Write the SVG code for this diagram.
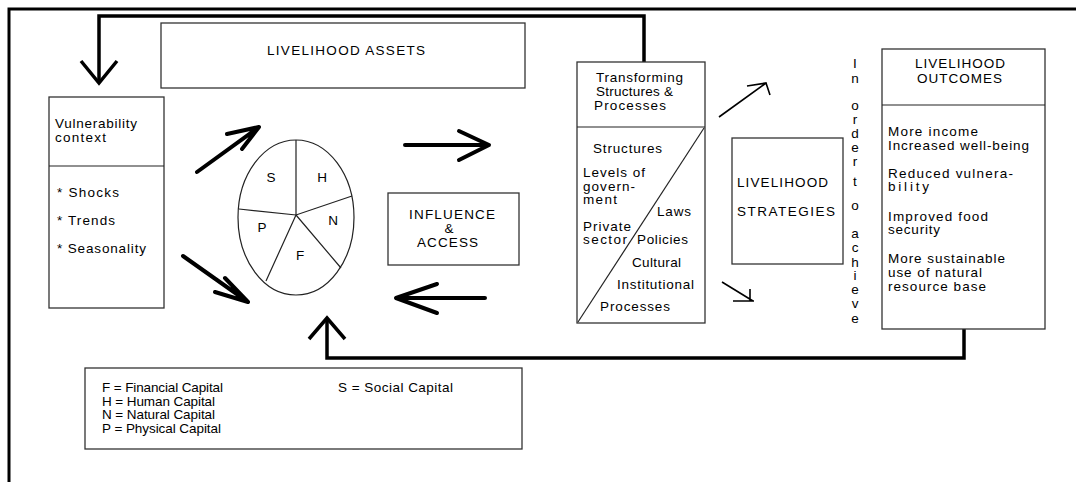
<svg xmlns="http://www.w3.org/2000/svg" width="1076" height="482" viewBox="0 0 1076 482">
<style>
text{font-family:"Liberation Sans",Arial,sans-serif;font-size:13.5px;fill:#000}
.c{text-anchor:middle}
.box{fill:#fff;stroke:#333;stroke-width:1.3}
.thin{fill:none;stroke:#222;stroke-width:1.2}
.fb{fill:none;stroke:#000;stroke-width:3.5;stroke-linejoin:miter}
.ar{fill:none;stroke:#000;stroke-width:4;stroke-linecap:round;stroke-linejoin:round}
.sa{fill:none;stroke:#000;stroke-width:1.6}
</style>
<rect width="1076" height="482" fill="#fff"/>
<g id="frame"><path d="M9,482 V9 H1076" fill="none" stroke="#000" stroke-width="3"/></g>

<g id="connectors">
  <path class="fb" d="M644,62 V16 H99 V82"/>
  <path class="fb" d="M81,61 L99,83 L117,61"/>
  <path class="fb" d="M964,329 V358 H327 V319"/>
  <path class="fb" d="M309,339 L327,318 L345,339"/>
  <path class="ar" d="M197,172 L259,127 M227,134 L259,127 L242,149"/>
  <path class="ar" d="M183,256 L248,302 M225,278 L248,302 L215,292"/>
  <path class="ar" d="M405,145 H489 M459,131 L489,145 L459,160"/>
  <path class="ar" d="M485,298 H396 M437,284 L396,298 L437,313"/>
  <path class="sa" d="M719,117 L766,83 M747,86 L766,83 L770,95"/>
  <path class="sa" d="M722,282 L753,301 M733,301 H754 M750,289 V301"/>
</g>

<g id="assets">
  <rect class="box" x="161" y="23" width="364" height="65"/>
  <text x="267" y="55" textLength="158" lengthAdjust="spacing">LIVELIHOOD ASSETS</text>
</g>

<g id="vulnerability">
  <rect class="box" x="49" y="97" width="115" height="211"/>
  <line class="thin" x1="49" y1="166" x2="164" y2="166"/>
  <text x="55" y="128" textLength="82" lengthAdjust="spacing">Vulnerability</text>
  <text x="55" y="142" textLength="51" lengthAdjust="spacing">context</text>
  <text x="57" y="197" textLength="62" lengthAdjust="spacing">* Shocks</text>
  <text x="57" y="225" textLength="58" lengthAdjust="spacing">* Trends</text>
  <text x="57" y="253" textLength="89" lengthAdjust="spacing">* Seasonality</text>
</g>

<g id="pie">
  <ellipse cx="296" cy="217.5" rx="58" ry="77.5" fill="#fff" stroke="#222" stroke-width="1.2"/>
  <path class="thin" d="M296,140 V215 M239,209 L296,215 L352,196 M296,215 L341,268 M296,215 L266,281"/>
  <text class="c" x="271" y="182">S</text>
  <text class="c" x="322" y="182">H</text>
  <text class="c" x="262" y="232">P</text>
  <text class="c" x="333" y="225">N</text>
  <text class="c" x="300" y="260">F</text>
</g>

<g id="influence">
  <rect class="box" x="388" y="193" width="131" height="72"/>
  <text x="409" y="219" textLength="86" lengthAdjust="spacing">INFLUENCE</text>
  <text class="c" x="449" y="233">&amp;</text>
  <text x="417" y="247" textLength="61" lengthAdjust="spacing">ACCESS</text>
</g>

<g id="transforming">
  <rect class="box" x="577" y="62" width="128" height="261"/>
  <line class="thin" x1="577" y1="127" x2="705" y2="127"/>
  <line class="thin" x1="578" y1="322" x2="704" y2="128"/>
  <text x="596" y="82" textLength="87" lengthAdjust="spacing">Transforming</text>
  <text x="596" y="96" textLength="77" lengthAdjust="spacing">Structures &amp;</text>
  <text x="594" y="110" textLength="72" lengthAdjust="spacing">Processes</text>
  <text x="593" y="153" textLength="69" lengthAdjust="spacing">Structures</text>
  <text x="583" y="177" textLength="62" lengthAdjust="spacing">Levels of</text>
  <text x="583" y="191" textLength="52" lengthAdjust="spacing">govern-</text>
  <text x="583" y="204" textLength="34" lengthAdjust="spacing">ment</text>
  <text x="657" y="216" textLength="34" lengthAdjust="spacing">Laws</text>
  <text x="583" y="231" textLength="48" lengthAdjust="spacing">Private</text>
  <text x="583" y="244" textLength="44" lengthAdjust="spacing">sector</text>
  <text x="637" y="244" textLength="51" lengthAdjust="spacing">Policies</text>
  <text x="632" y="267" textLength="49" lengthAdjust="spacing">Cultural</text>
  <text x="617" y="289" textLength="77" lengthAdjust="spacing">Institutional</text>
  <text x="600" y="311" textLength="70" lengthAdjust="spacing">Processes</text>
</g>

<g id="strategies">
  <rect class="box" x="732" y="138" width="111" height="126"/>
  <text x="737" y="187" textLength="91" lengthAdjust="spacing">LIVELIHOOD</text>
  <text x="737" y="216" textLength="98" lengthAdjust="spacing">STRATEGIES</text>
</g>

<g id="in-order-to-achieve">
  <text class="c" x="855" y="68">I</text>
  <text class="c" x="855" y="83">n</text>
  <text class="c" x="855" y="110">o</text>
  <text class="c" x="855" y="124">r</text>
  <text class="c" x="855" y="138">d</text>
  <text class="c" x="855" y="152">e</text>
  <text class="c" x="855" y="166">r</text>
  <text class="c" x="855" y="186">t</text>
  <text class="c" x="855" y="210">o</text>
  <text class="c" x="855" y="238">a</text>
  <text class="c" x="855" y="252">c</text>
  <text class="c" x="855" y="267">h</text>
  <text class="c" x="855" y="280">i</text>
  <text class="c" x="855" y="294">e</text>
  <text class="c" x="855" y="308">v</text>
  <text class="c" x="855" y="323">e</text>
</g>

<g id="outcomes">
  <rect class="box" x="882" y="49" width="163" height="280"/>
  <line class="thin" x1="882" y1="105" x2="1045" y2="105"/>
  <text x="915" y="68" textLength="90" lengthAdjust="spacing">LIVELIHOOD</text>
  <text x="917" y="83" textLength="85" lengthAdjust="spacing">OUTCOMES</text>
  <text x="888" y="136" textLength="90" lengthAdjust="spacing">More income</text>
  <text x="888" y="150" textLength="141" lengthAdjust="spacing">Increased well-being</text>
  <text x="888" y="178" textLength="125" lengthAdjust="spacing">Reduced vulnera-</text>
  <text x="888" y="191" textLength="41" lengthAdjust="spacing">bility</text>
  <text x="888" y="221" textLength="100" lengthAdjust="spacing">Improved food</text>
  <text x="888" y="234" textLength="52" lengthAdjust="spacing">security</text>
  <text x="888" y="263" textLength="117" lengthAdjust="spacing">More sustainable</text>
  <text x="888" y="277" textLength="94" lengthAdjust="spacing">use of natural</text>
  <text x="888" y="291" textLength="98" lengthAdjust="spacing">resource base</text>
</g>

<g id="legend">
  <rect class="box" x="85" y="368" width="437" height="81"/>
  <text x="102" y="392" textLength="121" lengthAdjust="spacing">F = Financial Capital</text>
  <text x="102" y="406" textLength="113" lengthAdjust="spacing">H = Human Capital</text>
  <text x="102" y="419" textLength="113" lengthAdjust="spacing">N = Natural Capital</text>
  <text x="102" y="433" textLength="119" lengthAdjust="spacing">P = Physical Capital</text>
  <text x="338" y="392" textLength="115" lengthAdjust="spacing">S = Social Capital</text>
</g>
</svg>
